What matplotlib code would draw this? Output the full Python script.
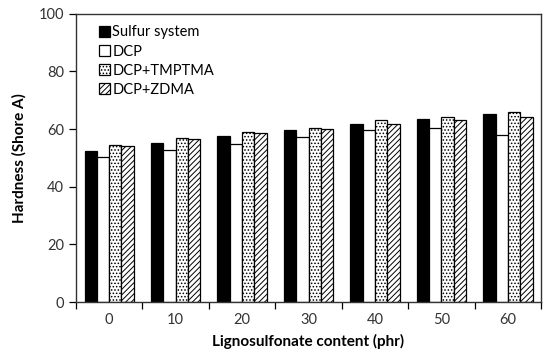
import numpy as np
import matplotlib.pyplot as plt

plt.rcParams['font.family'] = ['Lato', 'DejaVu Sans']
plt.rcParams['hatch.linewidth'] = 0.7

# 数据
contents = ['0', '10', '20', '30', '40', '50', '60']
sulfur = [52.4, 55.1, 57.6, 59.7, 61.8, 63.5, 65.3]
dcp = [50.2, 52.8, 55.0, 57.4, 59.6, 60.5, 57.9]
dcp_tmptma = [54.6, 57.0, 59.1, 60.4, 63.1, 64.2, 66.0]
dcp_zdma = [54.1, 56.6, 58.8, 60.0, 61.8, 63.1, 64.2]

series = [
    ('Sulfur system', sulfur, 'black', None),
    ('DCP', dcp, 'white', None),
    ('DCP+TMPTMA', dcp_tmptma, 'white', '.....'),
    ('DCP+ZDMA', dcp_zdma, 'white', '//////'),
]

fig = plt.figure(figsize=(5.5, 3.55), dpi=100)
ax = fig.add_axes([0.138, 0.149, 0.846, 0.812])

x = np.arange(len(contents))
w = 0.185
for i, (name, vals, color, hatch) in enumerate(series):
    ax.bar(x + (i - 1.5) * w, vals, width=w, color=color, edgecolor='black',
           linewidth=0.9, hatch=hatch, label=name)

ax.set_xlim(-0.5, len(contents) - 0.5)
ax.set_ylim(0, 100)
ax.set_yticks(range(0, 101, 20))
ax.set_xticks(x)
ax.set_xticklabels(contents)
ax.set_xticks(np.arange(-0.5, len(contents)), minor=True)
ax.tick_params(axis='x', which='major', length=0, pad=8, labelsize=10.5, colors='#333333')
ax.tick_params(axis='x', which='minor', length=5, direction='out', width=0.9)
ax.tick_params(axis='y', length=5, direction='out', width=0.9, labelsize=10.5, colors='#333333')
ax.tick_params(axis='both', color='black')

for s in ax.spines.values():
    s.set_linewidth(1.0)
    s.set_color('#333333')

ax.set_xlabel('Lignosulfonate content (phr)', fontsize=11, fontweight='bold', labelpad=5)
ax.set_ylabel('Hardness (Shore A)', fontsize=11, fontweight='bold', labelpad=9)

ax.legend(loc='upper left', bbox_to_anchor=(0.03, 0.99), frameon=False,
          fontsize=10.5, handlelength=0.75, handleheight=0.75, handletextpad=0.2,
          labelspacing=0.35, borderaxespad=0.2)

plt.savefig('out.png', dpi=100)
